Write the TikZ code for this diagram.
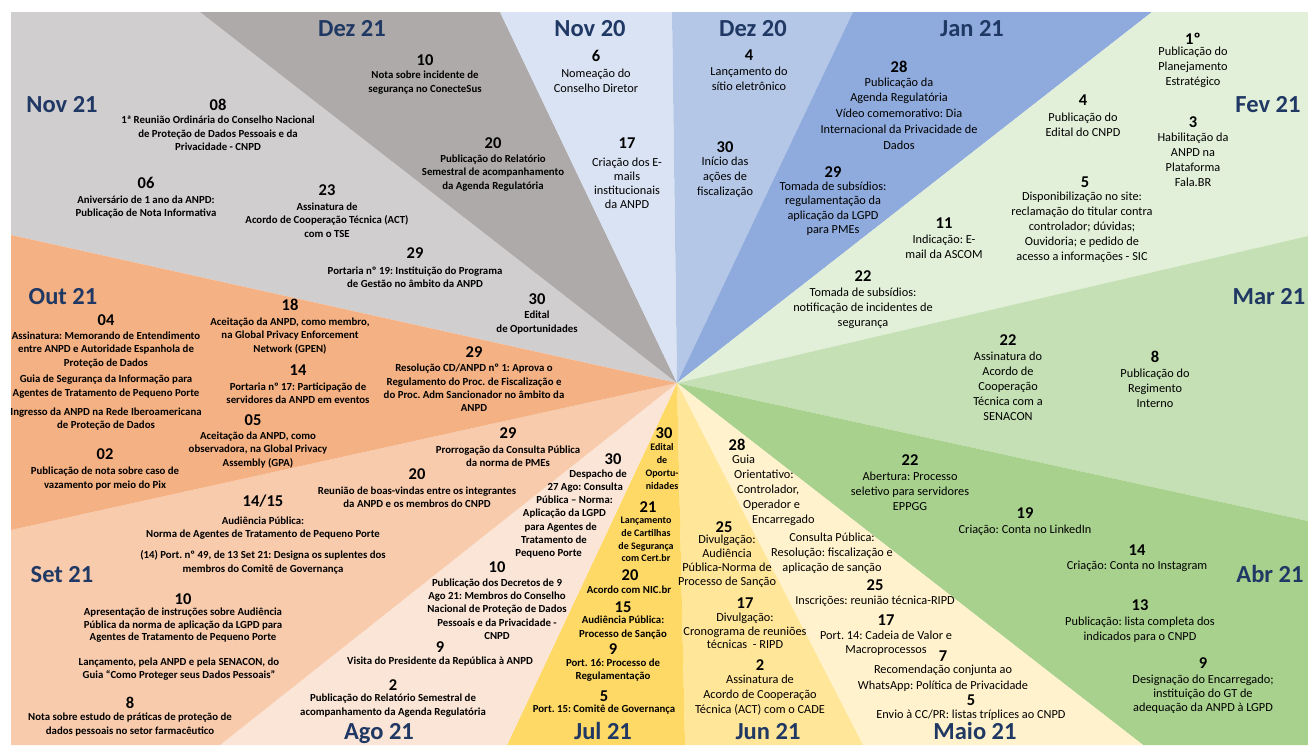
\documentclass[tikz,border=0pt]{standalone}
\usepackage{fontspec}
\setmainfont{Carlito}
\frenchspacing
\definecolor{cNovA}{HTML}{D0CECE}
\definecolor{cDezA}{HTML}{AEAAAA}
\definecolor{cNovB}{HTML}{DAE3F3}
\definecolor{cDezB}{HTML}{B4C7E7}
\definecolor{cJan}{HTML}{8FAADC}
\definecolor{cFev}{HTML}{E2F0D9}
\definecolor{cMar}{HTML}{C5E0B4}
\definecolor{cAbr}{HTML}{A9D18E}
\definecolor{cMai}{HTML}{FFF2CC}
\definecolor{cJun}{HTML}{FFE699}
\definecolor{cJul}{HTML}{FFD966}
\definecolor{cAgo}{HTML}{FBE5D6}
\definecolor{cSet}{HTML}{F8CBAD}
\definecolor{cOut}{HTML}{F4B183}
\definecolor{mesazul}{HTML}{203864}
\begin{document}
\begin{tikzpicture}[x=1pt, y=-1pt,
    mes/.style={font=\fontsize{24.5}{27}\selectfont\bfseries, text=mesazul, inner sep=0pt, text height=16pt, text depth=0pt},
    num/.style={font=\fontsize{16.5}{18}\selectfont\bfseries, inner sep=0pt, text height=10.4pt, text depth=0pt},
    txtklein/.style={font=\fontsize{10.8}{13.3}\selectfont\bfseries, align=center, inner sep=0pt},
    txtgross/.style={font=\fontsize{12.3}{15}\selectfont, align=center, inner sep=0pt}]
    \useasboundingbox (0,0) rectangle (1308,745);
    % Sektoren
    \coordinate (m)   at (677,383);
    \coordinate (b1)  at (200,12);
    \coordinate (b2)  at (500,12);
    \coordinate (b3)  at (672,12);
    \coordinate (b4)  at (853,12);
    \coordinate (b5)  at (1152,12);
    \coordinate (b6)  at (1308,236);
    \coordinate (b7)  at (1308,521);
    \coordinate (b8)  at (1143,745);
    \coordinate (b9)  at (863,745);
    \coordinate (b10) at (685,745);
    \coordinate (b11) at (507,745);
    \coordinate (b12) at (220,745);
    \coordinate (b13) at (11,530);
    \coordinate (b14) at (11,235);
    \fill[cNovA] (m) -- (b14) -- (11,12) -- (b1) -- cycle;
    \fill[cDezA] (m) -- (b1) -- (b2) -- cycle;
    \fill[cNovB] (m) -- (b2) -- (b3) -- cycle;
    \fill[cDezB] (m) -- (b3) -- (b4) -- cycle;
    \fill[cJan]  (m) -- (b4) -- (b5) -- cycle;
    \fill[cFev]  (m) -- (b5) -- (1308,12) -- (b6) -- cycle;
    \fill[cMar]  (m) -- (b6) -- (b7) -- cycle;
    \fill[cAbr]  (m) -- (b7) -- (1308,745) -- (b8) -- cycle;
    \fill[cMai]  (m) -- (b8) -- (b9) -- cycle;
    \fill[cJun]  (m) -- (b9) -- (b10) -- cycle;
    \fill[cJul]  (m) -- (b10) -- (b11) -- cycle;
    \fill[cAgo]  (m) -- (b11) -- (b12) -- cycle;
    \fill[cSet]  (m) -- (b12) -- (11,745) -- (b13) -- cycle;
    \fill[cOut]  (m) -- (b13) -- (b14) -- cycle;
    % Monate
    \node[mes] (nov21) at (62,104)   {Nov 21};
    \node[mes] (dez21) at (352,28)   {Dez 21};
    \node[mes] (nov20) at (590,28)   {Nov 20};
    \node[mes] (dez20) at (753,28)   {Dez 20};
    \node[mes] (jan21) at (972,28)   {Jan 21};
    \node[mes] (fev21) at (1268,104) {Fev 21};
    \node[mes] (mar21) at (1269,296) {Mar 21};
    \node[mes] (abr21) at (1270,574) {Abr 21};
    \node[mes] (mai21) at (975,731)  {Maio 21};
    \node[mes] (jun21) at (768,731)  {Jun 21};
    \node[mes] (jul21) at (603,731)  {Jul 21};
    \node[mes] (ago21) at (379,731)  {Ago 21};
    \node[mes] (set21) at (62,574)   {Set 21};
    \node[mes] (out21) at (63,296)   {Out 21};
    % Nov 21
    \node[num]      (nov21a)  at (218,105) {08};
    \node[txtklein] (nov21at) at (218,133.5) {1ª Reunião Ordinária do Conselho Nacional\\de Proteção de Dados Pessoais e da\\Privacidade - CNPD};
    \node[num]      (nov21b)  at (146,183) {06};
    \node[txtklein] (nov21bt) at (146,207) {Aniversário de 1 ano da ANPD:\\Publicação de Nota Informativa};
    \node[num]      (nov21c)  at (327,190) {23};
    \node[txtklein] (nov21ct) at (327,220) {Assinatura de\\Acordo de Cooperação Técnica (ACT)\\com o TSE};
    \node[num]      (nov21d)  at (415,253) {29};
    \node[txtklein] (nov21dt) at (415,277) {Portaria nº 19: Instituição do Programa\\de Gestão no âmbito da ANPD};
    \node[num]      (nov21e)  at (537,299) {30};
    \node[txtklein] (nov21et) at (537,322.5) {Edital\\de Oportunidades};
    % Dez 21
    \node[num]      (dez21a)  at (425,60) {10};
    \node[txtklein] (dez21at) at (425,82.5) {Nota sobre incidente de\\segurança no ConecteSus};
    \node[num]      (dez21b)  at (493,143) {20};
    \node[txtklein] (dez21bt) at (493,173) {Publicação do Relatório\\Semestral de acompanhamento\\da Agenda Regulatória};
    % Nov 20
    \node[num]      (nov20a)  at (596,56) {6};
    \node[txtgross] (nov20at) at (596,80.5) {Nomeação do\\Conselho Diretor};
    \node[num]      (nov20b)  at (627,143) {17};
    \node[txtgross, font=\fontsize{12.3}{14}\selectfont] (nov20bt) at (627,183.5) {Criação dos E-\\mails\\institucionais\\da ANPD};
    % Dez 20
    \node[num]      (dez20a)  at (749,55) {4};
    \node[txtgross] (dez20at) at (749,79) {Lançamento do\\sítio eletrônico};
    \node[num]      (dez20b)  at (725,147) {30};
    \node[txtgross] (dez20bt) at (725,177) {Início das\\ações de\\fiscalização};
    % Jan 21
    \node[num]      (jan21a)  at (899,67) {28};
    \node[txtgross, font=\fontsize{12.3}{15.75}\selectfont] (jan21at) at (899,113.5) {Publicação da\\Agenda Regulatória\\Vídeo comemorativo: Dia\\Internacional da Privacidade de\\Dados};
    \node[num]      (jan21b)  at (833,172) {29};
    \node[txtgross, font=\fontsize{12.3}{14.5}\selectfont] (jan21bt) at (833,208.5) {Tomada de subsídios:\\regulamentação da\\aplicação da LGPD\\para PMEs};
    % Fev 21
    \node[num]      (fev21a)  at (1193,39) {1º};
    \node[txtgross] (fev21at) at (1193,67) {Publicação do\\Planejamento\\Estratégico};
    \node[num]      (fev21b)  at (1083,100) {4};
    \node[txtgross] (fev21bt) at (1083,124.5) {Publicação do\\Edital do CNPD};
    \node[num]      (fev21c)  at (1193,122) {3};
    \node[txtgross] (fev21ct) at (1193,160) {Habilitação da\\ANPD na\\Plataforma\\Fala.BR};
    \node[num]      (fev21d)  at (1085,182) {5};
    \node[txtgross] (fev21dt) at (1082,227.5) {Disponibilização no site:\\reclamação do titular contra\\controlador; dúvidas;\\Ouvidoria; e pedido de\\acesso a informações - SIC};
    \node[num]      (fev21e)  at (944,223) {11};
    \node[txtgross] (fev21et) at (944,246.5) {Indicação: E-\\mail da ASCOM};
    \node[num]      (fev21f)  at (863,276) {22};
    \node[txtgross] (fev21ft) at (863,308) {Tomada de subsídios:\\notificação de incidentes de\\segurança};
    % Mar 21
    \node[num]      (mar21a)  at (1008,340) {22};
    \node[txtgross] (mar21at) at (1008,386) {Assinatura do\\Acordo de\\Cooperação\\Técnica com a\\SENACON};
    \node[num]      (mar21b)  at (1155,357) {8};
    \node[txtgross] (mar21bt) at (1155,388) {Publicação do\\Regimento\\Interno};
    % Abr 21
    \node[num]      (abr21a)  at (910,460) {22};
    \node[txtgross] (abr21at) at (910,491) {Abertura: Processo\\seletivo para servidores\\EPPGG};
    \node[num]      (abr21b)  at (1025,513) {19};
    \node[txtgross] (abr21bt) at (1025,530) {Criação: Conta no LinkedIn};
    \node[num]      (abr21c)  at (1137,550) {14};
    \node[txtgross] (abr21ct) at (1137,566) {Criação: Conta no Instagram};
    \node[num]      (abr21d)  at (1140,605) {13};
    \node[txtgross] (abr21dt) at (1140,629.5) {Publicação: lista completa dos\\indicados para o CNPD};
    \node[num]      (abr21e)  at (1203,663) {9};
    \node[txtgross, font=\fontsize{12.3}{14}\selectfont] (abr21et) at (1203,694) {Designação do Encarregado;\\instituição do GT de\\adequação da ANPD à LGPD};
    % Maio 21
    \node[num]      (mai21a)  at (737,445) {28};
    \node[txtgross, align=left, anchor=west] (mai21at) at (732,490.5) {Guia\\\hspace*{2pt}Orientativo:\\\hspace*{5pt}Controlador,\\\hspace*{11pt}Operador e\\\hspace*{20pt}Encarregado};
    \node[txtgross] (mai21bt) at (832,553) {Consulta Pública:\\Resolução: fiscalização e\\aplicação de sanção};
    \node[num]      (mai21c)  at (875,585) {25};
    \node[txtgross] (mai21ct) at (875,601) {Inscrições: reunião técnica-RIPD};
    \node[num]      (mai21d)  at (886,620) {17};
    \node[txtgross, font=\fontsize{12.3}{14.5}\selectfont] (mai21dt) at (886,643) {Port. 14: Cadeia de Valor e\\Macroprocessos};
    \node[num]      (mai21e)  at (943,656) {7};
    \node[txtgross, font=\fontsize{12.3}{16}\selectfont] (mai21et) at (943,678.5) {Recomendação conjunta ao\\WhatsApp: Política de Privacidade};
    \node[num]      (mai21f)  at (971,700) {5};
    \node[txtgross] (mai21ft) at (971,715) {Envio à CC/PR: listas tríplices ao CNPD};
    % Jun 21
    \node[num]      (jun21a)  at (724,527) {25};
    \node[txtgross, font=\fontsize{12.3}{14}\selectfont] (jun21at) at (727,561.5) {Divulgação:\\Audiência\\Pública-Norma de\\Processo de Sanção};
    \node[num]      (jun21b)  at (745,603) {17};
    \node[txtgross, font=\fontsize{12.3}{13.5}\selectfont] (jun21bt) at (745,631) {Divulgação:\\Cronograma de reuniões\\técnicas~ - RIPD};
    \node[num]      (jun21c)  at (760,665) {2};
    \node[txtgross] (jun21ct) at (760,695) {Assinatura de\\Acordo de Cooperação\\Técnica (ACT) com o CADE};
    % Jul 21
    \node[num]      (jul21a)  at (664,433) {30};
    \node[txtklein, font=\fontsize{10}{13}\selectfont\bfseries] (jul21at) at (662,466.5) {Edital\\de\\Oportu-\\nidades};
    \node[num]      (jul21b)  at (648,507) {21};
    \node[txtklein, font=\fontsize{10}{12.7}\selectfont\bfseries] (jul21bt) at (646,539.5) {Lançamento\\de Cartilhas\\de Segurança\\com Cert.br};
    \node[num]      (jul21c)  at (630,575) {20};
    \node[txtklein] (jul21ct) at (629,590) {Acordo com NIC.br};
    \node[num]      (jul21d)  at (623,607) {15};
    \node[txtklein] (jul21dt) at (623,627.5) {Audiência Pública:\\Processo de Sanção};
    \node[num]      (jul21e)  at (613,649) {9};
    \node[txtklein] (jul21et) at (613,670) {Port. 16: Processo de\\Regulamentação};
    \node[num]      (jul21f)  at (604,696) {5};
    \node[txtklein] (jul21ft) at (604,709.5) {Port. 15: Comitê de Governança};
    % Ago 21
    \node[num]      (ago21a)  at (613,459) {30};
    \node[txtklein, align=right, anchor=east] (ago21at) at (627,514) {Despacho de\\27 Ago: Consulta\hspace*{4pt}\mbox{}\\Pública – Norma:\hspace*{14pt}\mbox{}\\Aplicação da LGPD\hspace*{21pt}\mbox{}\\para Agentes de\hspace*{30pt}\mbox{}\\Tratamento de\hspace*{40pt}\mbox{}\\Pequeno Porte\hspace*{45pt}\mbox{}};
    \node[num]      (ago21b)  at (497,567) {10};
    \node[txtklein] (ago21bt) at (497,609) {Publicação dos Decretos de 9\\Ago 21: Membros do Conselho\\Nacional de Proteção de Dados\\Pessoais e da Privacidade -\\CNPD};
    \node[num]      (ago21c)  at (440,647) {9};
    \node[txtklein] (ago21ct) at (440,661.5) {Visita do Presidente da República à ANPD};
    \node[num]      (ago21d)  at (393,685) {2};
    \node[txtklein] (ago21dt) at (393,705.5) {Publicação do Relatório Semestral de\\acompanhamento da Agenda Regulatória};
    % Set 21
    \node[num]      (set21a)  at (508,433) {29};
    \node[txtklein] (set21at) at (508,456.5) {Prorrogação da Consulta Pública\\da norma de PMEs};
    \node[num]      (set21b)  at (417,474) {20};
    \node[txtklein] (set21bt) at (417,497.5) {Reunião de boas-vindas entre os integrantes\\da ANPD e os membros do CNPD};
    \node[num]      (set21c)  at (263,501) {14/15};
    \node[txtklein] (set21ct) at (263,528) {Audiência Pública:\\Norma de Agentes de Tratamento de Pequeno Porte};
    \node[txtklein] (set21dt) at (263,562.5) {(14) Port. nº 49, de 13 Set 21: Designa os suplentes dos\\membros do Comitê de Governança};
    \node[num]      (set21e)  at (183,599) {10};
    \node[txtklein, font=\fontsize{10.8}{12.5}\selectfont\bfseries] (set21et) at (183,625.5) {Apresentação de instruções sobre Audiência\\Pública da norma de aplicação da LGPD para\\Agentes de Tratamento de Pequeno Porte};
    \node[txtklein] (set21ft) at (179,669) {Lançamento, pela ANPD e pela SENACON, do\\Guia “Como Proteger seus Dados Pessoais”};
    \node[num]      (set21g)  at (130,703) {8};
    \node[txtklein] (set21gt) at (130,724.5) {Nota sobre estudo de práticas de proteção de\\dados pessoais no setor farmacêutico};
    % Out 21
    \node[num]      (out21a)  at (106,320) {04};
    \node[txtklein] (out21at) at (106,350) {Assinatura: Memorando de Entendimento\\entre ANPD e Autoridade Espanhola de\\Proteção de Dados};
    \node[txtklein] (out21bt) at (106,386.5) {Guia de Segurança da Informação para\\Agentes de Tratamento de Pequeno Porte};
    \node[txtklein] (out21ct) at (106,419) {Ingresso da ANPD na Rede Iberoamericana\\de Proteção de Dados};
    \node[num]      (out21d)  at (105,454) {02};
    \node[txtklein] (out21dt) at (105,478.5) {Publicação de nota sobre caso de\\vazamento por meio do Pix};
    \node[num]      (out21e)  at (290,305) {18};
    \node[txtklein] (out21et) at (290,336) {Aceitação da ANPD, como membro,\\na Global Privacy Enforcement\\Network (GPEN)};
    \node[num]      (out21f)  at (298,370) {14};
    \node[txtklein] (out21ft) at (298,393.5) {Portaria nº 17: Participação de\\servidores da ANPD em eventos};
    \node[num]      (out21g)  at (253,420) {05};
    \node[txtklein] (out21gt) at (258,450) {Aceitação da ANPD, como\\observadora, na Global Privacy\\Assembly (GPA)};
    \node[num]      (out21h)  at (474,352) {29};
    \node[txtklein] (out21ht) at (474,388) {Resolução CD/ANPD nº 1: Aprova o\\Regulamento do Proc. de Fiscalização e\\do Proc. Adm Sancionador no âmbito da\\ANPD};
\end{tikzpicture}
\end{document}
